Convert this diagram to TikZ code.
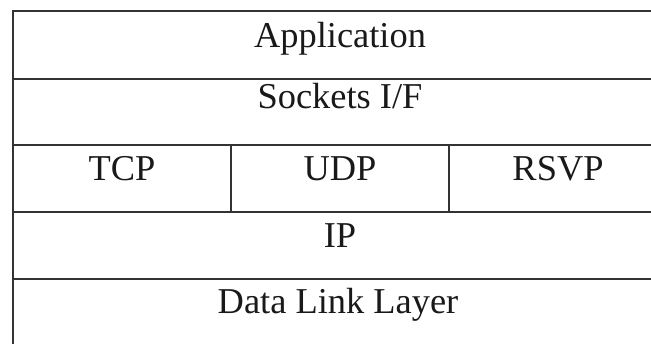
\documentclass[tikz,border=0pt]{standalone}
\usepackage{fontspec}
\setmainfont{Liberation Serif}
\tikzset{layer/.style={anchor=base, font=\fontsize{18.2}{22}\selectfont, text=black!90}}
\begin{document}
\begin{tikzpicture}[x=0.5pt, y=-0.5pt, line width=1.1pt, draw=black!80]
\useasboundingbox (0,0) rectangle (651,343);
\clip (0,0) rectangle (651,343);
  \draw (13,11) rectangle (667,360);
  \foreach \y in {79,145,212,279}
    \draw (13,\y) -- (667,\y);
  \draw (231,145) -- (231,212);
  \draw (449,145) -- (449,212);
  \node[layer] (app) at (340,47) {Application};
  \node[layer] (sock) at (340,108) {Sockets I/F};
  \node[layer] (tcp) at (122,180) {TCP};
  \node[layer] (udp) at (340,180) {UDP};
  \node[layer] (rsvp) at (558,180) {RSVP};
  \node[layer] (ip) at (340,247.5) {IP};
  \node[layer] (dll) at (338,313) {Data Link Layer};
\end{tikzpicture}
\end{document}
